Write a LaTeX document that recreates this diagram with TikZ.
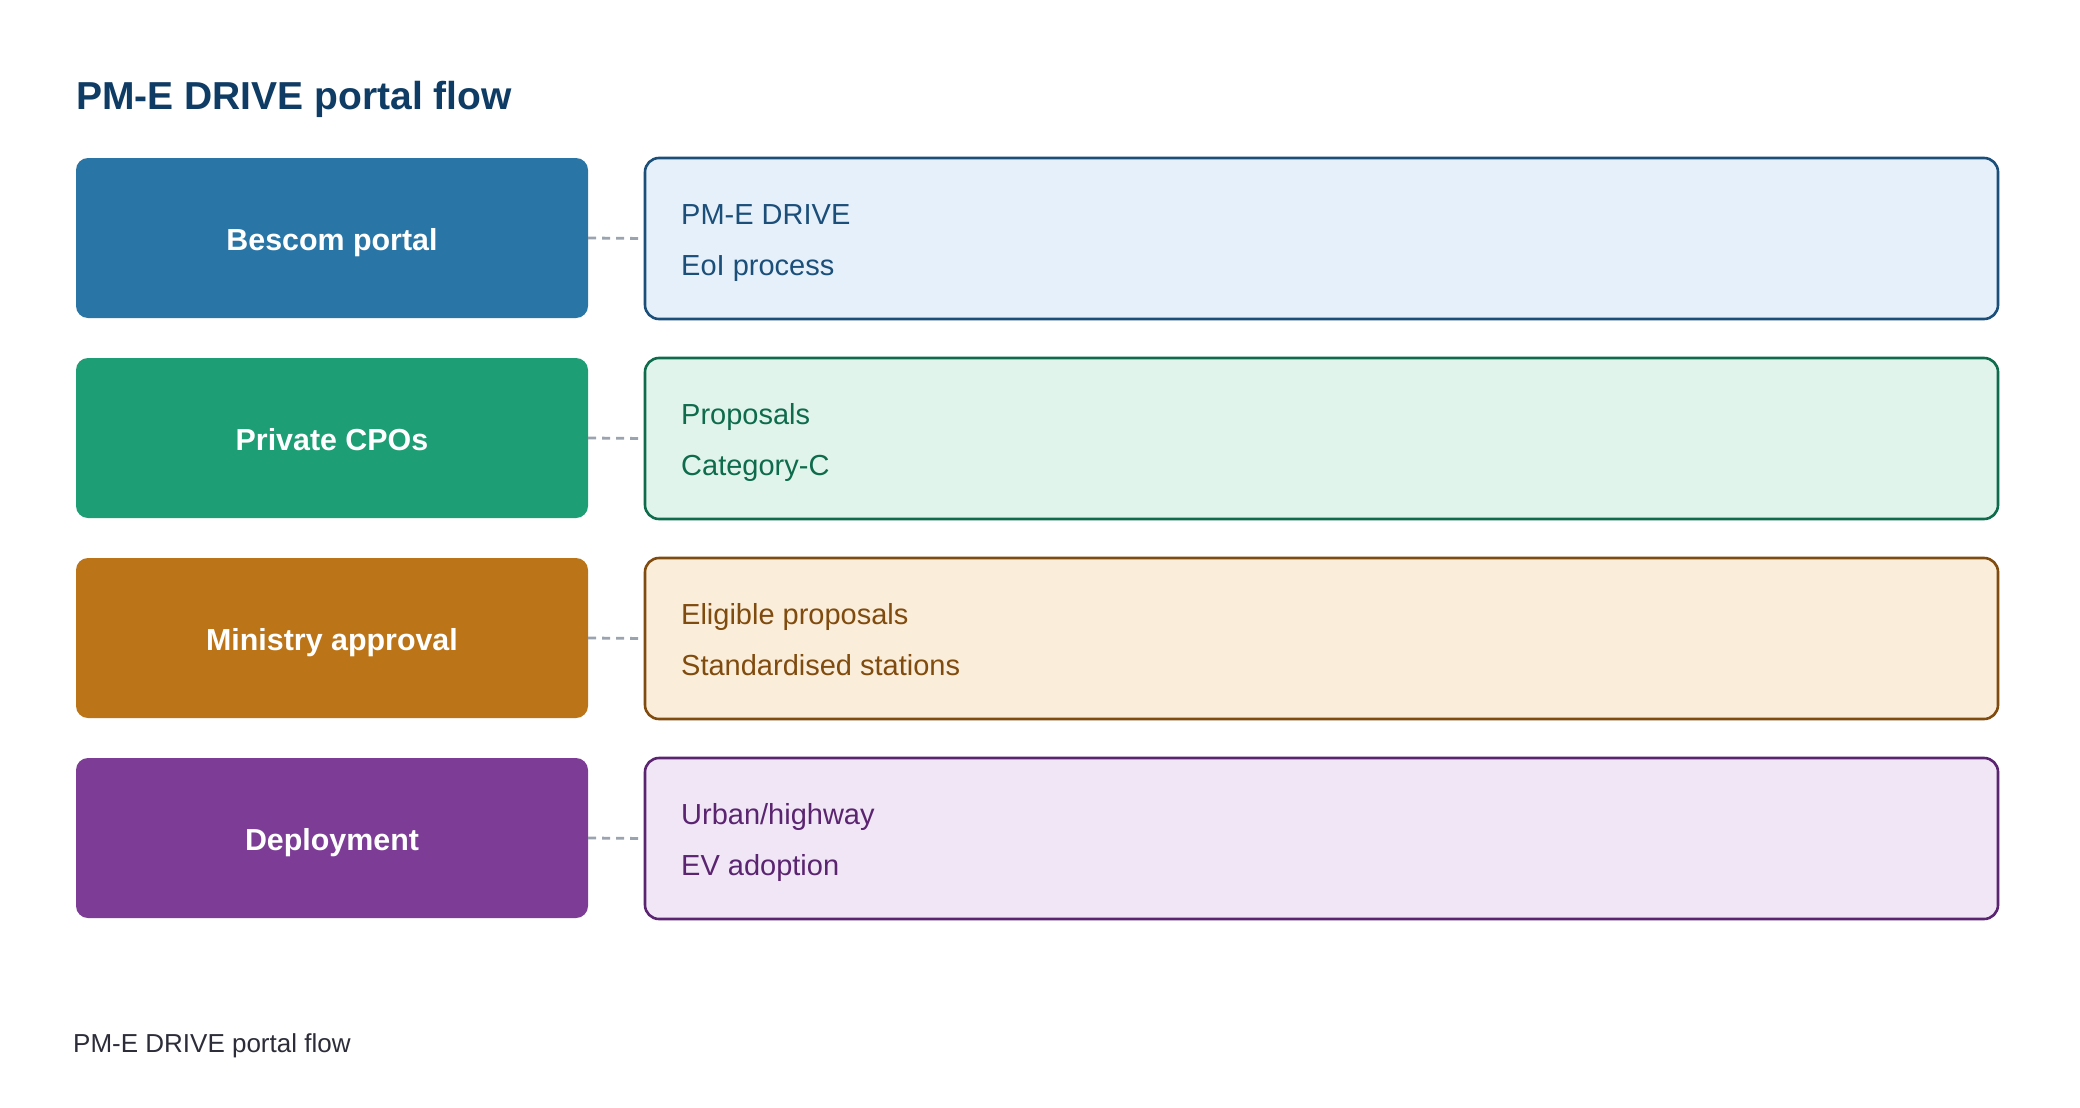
\documentclass[tikz,border=0pt]{standalone}
\usepackage{fontspec}
\setmainfont{Liberation Sans}
\definecolor{titlec}{HTML}{0F3C64}
\definecolor{capc}{HTML}{2D2D3A}
\definecolor{dashc}{HTML}{9AA3AE}
\definecolor{fA}{HTML}{2975A6}\definecolor{bA}{HTML}{1B4F7A}\definecolor{lA}{HTML}{E6F0FA}
\definecolor{fB}{HTML}{1E9E74}\definecolor{bB}{HTML}{0E6B4C}\definecolor{lB}{HTML}{E1F4EC}
\definecolor{fC}{HTML}{BB7518}\definecolor{bC}{HTML}{804B0E}\definecolor{lC}{HTML}{FAEDDA}
\definecolor{fD}{HTML}{7D3C96}\definecolor{bD}{HTML}{5B2470}\definecolor{lD}{HTML}{F0E6F5}
\tikzset{
  leftbox/.style={rectangle, rounded corners=12pt, minimum width=512pt, minimum height=160pt, inner sep=0pt, draw=none},
  rightbox/.style={rectangle, rounded corners=14pt, minimum width=1353pt, minimum height=161pt, inner sep=0pt, line width=2.6pt},
  labeltext/.style={anchor=base, inner sep=0pt, text=white, font=\fontsize{30.4}{36}\selectfont\bfseries},
  itemtext/.style={anchor=base west, inner sep=0pt, font=\fontsize{29}{35}\selectfont},
  linker/.style={draw=dashc, line width=2.8pt, dash pattern=on 8pt off 6pt, shorten >=5pt},
}
\begin{document}
\begin{tikzpicture}[x=1pt,y=-1pt]
\useasboundingbox (0,0) rectangle (2080,1108);
\fill[white] (0,0) rectangle (2080,1108);
\node[anchor=base west, inner sep=0pt, text=titlec, font=\fontsize{39}{46}\selectfont\bfseries] (title) at (76,109) {PM-E DRIVE portal flow};
% row 1
\node[leftbox, fill=fA] (L1) at (332,238) {};
\node[labeltext] (T1) at (332,250.5) {Bescom portal};
\node[rightbox, fill=lA, draw=bA] (R1) at (1321.5,238.5) {};
\node[itemtext, text=bA] (A1) at (681,224) {PM-E DRIVE};
\node[itemtext, text=bA] (B1) at (681,275) {EoI process};
\draw[linker] (L1.east) -- (R1.west);
% row 2
\node[leftbox, fill=fB] (L2) at (332,438) {};
\node[labeltext] (T2) at (332,450.5) {Private CPOs};
\node[rightbox, fill=lB, draw=bB] (R2) at (1321.5,438.5) {};
\node[itemtext, text=bB] (A2) at (681,424) {Proposals};
\node[itemtext, text=bB] (B2) at (681,475) {Category-C};
\draw[linker] (L2.east) -- (R2.west);
% row 3
\node[leftbox, fill=fC] (L3) at (332,638) {};
\node[labeltext] (T3) at (332,650.5) {Ministry approval};
\node[rightbox, fill=lC, draw=bC] (R3) at (1321.5,638.5) {};
\node[itemtext, text=bC] (A3) at (681,624) {Eligible proposals};
\node[itemtext, text=bC] (B3) at (681,675) {Standardised stations};
\draw[linker] (L3.east) -- (R3.west);
% row 4
\node[leftbox, fill=fD] (L4) at (332,838) {};
\node[labeltext] (T4) at (332,850.5) {Deployment};
\node[rightbox, fill=lD, draw=bD] (R4) at (1321.5,838.5) {};
\node[itemtext, text=bD] (A4) at (681,824) {Urban/highway};
\node[itemtext, text=bD] (B4) at (681,875) {EV adoption};
\draw[linker] (L4.east) -- (R4.west);
% caption
\node[anchor=base west, inner sep=0pt, text=capc, font=\fontsize{26}{31}\selectfont] (cap) at (73,1052) {PM-E DRIVE portal flow};
\end{tikzpicture}
\end{document}
